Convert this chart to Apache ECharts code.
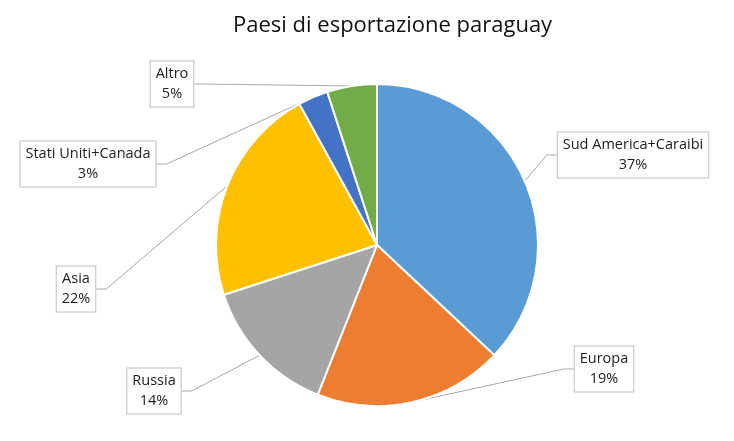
<!DOCTYPE html>
<html>
<head>
<meta charset="utf-8">
<script src="https://cdn.jsdelivr.net/npm/echarts@6/dist/echarts.min.js"></script>
<style>html,body{margin:0;padding:0;background:#fff;}#c{width:734px;height:441px;}</style>
</head>
<body>
<div id="c"></div>
<script>
const titleText = 'Paesi di esportazione paraguay';
const categories = ['Sud America+Caraibi', 'Europa', 'Russia', 'Asia', 'Stati Uniti+Canada', 'Altro'];
const values = [37, 19, 14, 22, 3, 5];
const colors = ['#5B9BD5', '#ED7D31', '#A5A5A5', '#FFC000', '#4472C4', '#70AD47'];
const labelPos = [[633, 155], [604, 369], [154, 391], [76, 289], [88, 164], [172, 84]];

const chart = echarts.init(document.getElementById('c'));
chart.setOption({
  animation: false,
  title: {
    text: titleText,
    left: 228,
    top: 10,
    textStyle: { fontFamily: 'Open Sans', fontWeight: 'normal', fontSize: 22, color: '#111' }
  },
  series: [{
    type: 'pie',
    center: [377, 245],
    radius: 161,
    startAngle: 90,
    clockwise: true,
    data: categories.map((n, i) => ({ name: n, value: values[i], itemStyle: { color: colors[i] } })),
    itemStyle: { borderColor: '#fff', borderWidth: 2 },
    label: {
      show: true,
      position: 'outside',
      formatter: '{b}\n{c}%',
      fontFamily: 'Open Sans',
      fontSize: 14.5,
      lineHeight: 20,
      color: '#222',
      align: 'center',
      backgroundColor: '#fff',
      borderColor: '#bfbfbf',
      borderWidth: 1,
      padding: [3, 5, 2, 5]
    },
    labelLine: { show: true, length: 18, length2: 10, lineStyle: { color: '#a6a6a6', width: 1 } },
    labelLayout: function (p) {
      const pos = labelPos[p.dataIndex];
      return { x: pos[0], y: pos[1], align: 'center', verticalAlign: 'middle' };
    }
  }]
});
</script>
</body>
</html>
